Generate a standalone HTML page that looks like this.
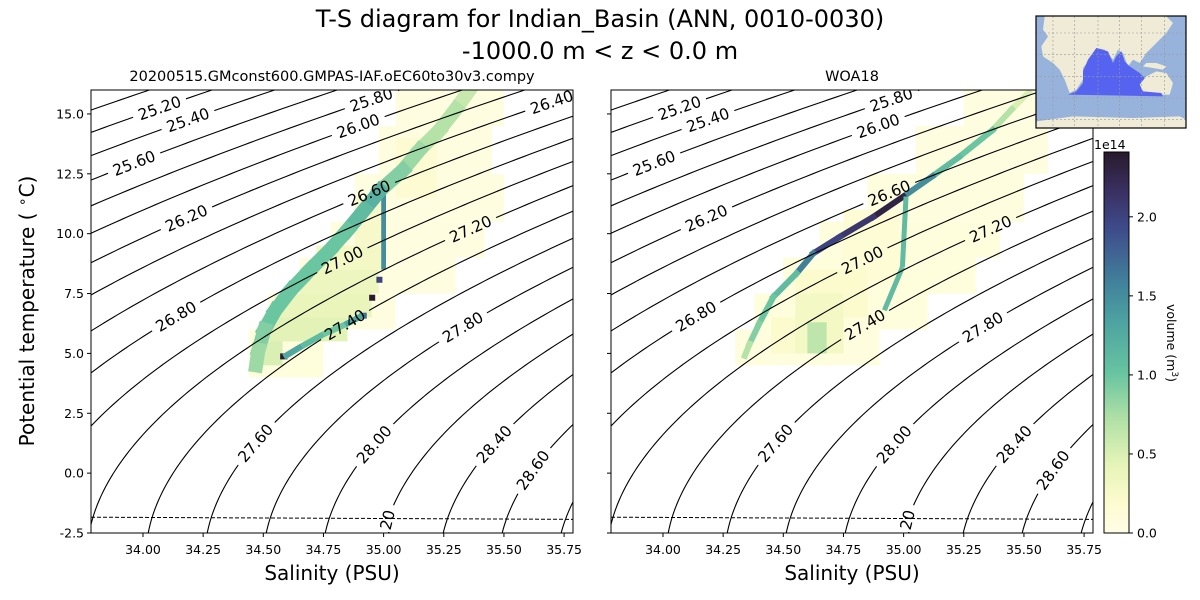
<!DOCTYPE html>
<html><head><meta charset="utf-8"><style>
html,body{margin:0;padding:0;background:#fff;}
svg{display:block;font-family:"DejaVu Sans","Liberation Sans",sans-serif;}
</style></head><body>
<svg id="fig" width="1200" height="600" viewBox="0 0 1200 600" xmlns="http://www.w3.org/2000/svg">
<text x="600" y="27" text-anchor="middle" font-size="24">T-S diagram for Indian_Basin (ANN, 0010-0030)</text>
<text x="600" y="59" text-anchor="middle" font-size="24">-1000.0 m &lt; z &lt; 0.0 m</text>
<text x="332" y="81" text-anchor="middle" font-size="14.5">20200515.GMconst600.GMPAS-IAF.oEC60to30v3.compy</text>
<text x="852" y="81" text-anchor="middle" font-size="14.5">WOA18</text>
<text x="332" y="580" text-anchor="middle" font-size="20">Salinity (PSU)</text>
<text x="852" y="580" text-anchor="middle" font-size="20">Salinity (PSU)</text>
<text transform="translate(34,311) rotate(-90)" text-anchor="middle" font-size="20">Potential temperature ( <tspan dy="-7" font-size="14">∘</tspan><tspan dy="7">C)</tspan></text>
<g id="panels"></g>
<g id="cbar"></g>
<g id="map"></g>
</svg>
<script>
// ---------------- data ----------------
const sLimits = [33.784, 35.787];
const tLimits = [-2.5, 16.0];
const xTicks = [34.00, 34.25, 34.50, 34.75, 35.00, 35.25, 35.50, 35.75];
const yTicks = [-2.5, 0.0, 2.5, 5.0, 7.5, 10.0, 12.5, 15.0];
const sigmaLevels = [25.0,25.2,25.4,25.6,25.8,26.0,26.2,26.4,26.6,26.8,27.0,27.2,27.4,27.6,27.8,28.0,28.2,28.4,28.6,28.8,29.0];
const labelLevels = [25.2,25.4,25.6,25.8,26.0,26.2,26.4,26.6,26.8,27.0,27.2,27.4,27.6,27.8,28.0,28.2,28.4,28.6];
const labelTemps  = [15.25,14.75,12.95,15.6,14.5,10.65,15.5,11.7,6.55,8.9,10.2,6.2,1.26,6.1,1.2,-2.45,1.21,0.13];
const freezeS = [33.784, 35.787];
const freezeT = [-1.84, -1.93];
const cbarTicks = [0.0, 0.5, 1.0, 1.5, 2.0];
const cbarMax = 2.41;
// heatmap blocks: [T0, T1, S0, S1, volume(1e14 m3)]
const modelBlocks = [
 [14.5,16,35.05,35.5,0.05],[12.5,14.5,34.98,35.45,0.06],[10.5,12.5,34.88,35.5,0.06],
 [9,10.5,34.78,35.42,0.06],[7.5,9,34.65,35.3,0.05],[6,7.5,34.52,35.05,0.05],[4.0,6,34.44,34.75,0.08],
 [11.5,14,35.05,35.22,0.18],[9.5,11.5,34.88,35.0,0.25],
 [8.5,9.5,34.72,35.0,0.3],[7.5,8.5,34.65,34.98,0.35],[6.5,7.5,34.55,34.95,0.4],[5.5,6.5,34.5,34.85,0.45],[4.5,5.5,34.47,34.58,0.5],
 [8.5,11.8,34.99,35.01,1.5],[7.95,8.2,34.97,34.995,2.0],[7.2,7.45,34.94,34.965,2.4],
 [6.45,6.7,34.90,34.93,1.7],[4.75,5.0,34.57,34.60,2.4]
];
const modelRidgeT = [15.9,15.2,14.3,13.5,12.65,11.8,11.0,10.15,9.3,8.5,7.65,6.8,6.0,5.15,4.5];
const modelRidgeS = [35.35,35.30,35.23,35.15,35.08,34.985,34.92,34.85,34.775,34.695,34.615,34.55,34.505,34.48,34.47];
const modelRidgeV = [0.6,0.7,0.7,0.8,0.9,1.2,1.1,1.0,1.0,1.0,1.0,1.0,0.9,0.8,0.6];
const modelLowT = [4.85,5.3,5.8,6.2,6.6];
const modelLowS = [34.585,34.66,34.75,34.84,34.915];
const modelLowV = [1.3,1.1,1.0,1.3];
const obsBlocks = [
 [14.5,16,35.25,35.65,0.05],[12.5,14.5,35.05,35.6,0.06],[10.5,12.5,34.85,35.5,0.07],
 [9,10.5,34.65,35.4,0.08],[7.5,9,34.5,35.3,0.08],[6,7.5,34.38,35.1,0.08],[4.5,6,34.3,34.9,0.07],
 [8,11,34.75,34.98,0.15],[6.5,8.5,34.55,34.85,0.2],[5,6.5,34.45,34.75,0.2],
 [5.0,7.5,34.55,34.75,0.3],[5.0,6.3,34.6,34.68,0.65]
];
const obsRidgeT = [15.9,15.2,14.33,13.2,12.4,11.55,10.7,9.87,9.18,8.34,7.36,6.25,5.4,4.9];
const obsRidgeS = [35.52,35.45,35.37,35.23,35.12,34.999,34.874,34.735,34.625,34.555,34.459,34.40,34.36,34.34];
const obsRidgeV = [0.5,0.7,1.0,1.1,1.5,2.3,2.1,2.0,1.6,1.1,1.0,0.9,0.7,0.4];
const obsVertT = [11.55,8.6,6.8];
const obsVertS = [35.01,34.995,34.92];
const obsVertV = [1.1,1.1];

// ---------------- helpers ----------------
const NS = "http://www.w3.org/2000/svg";
function mk(tag, attrs, parent){const e=document.createElementNS(NS,tag);for(const k in attrs)e.setAttribute(k,attrs[k]);if(parent)parent.appendChild(e);return e;}
function rhoSigma(S,T){
 const rw=999.842594+6.793952e-2*T-9.095290e-3*T*T+1.001685e-4*T**3-1.120083e-6*T**4+6.536332e-9*T**5;
 const A=0.824493-4.0899e-3*T+7.6438e-5*T*T-8.2467e-7*T**3+5.3875e-9*T**4;
 const B=-5.72466e-3+1.0227e-4*T-1.6546e-6*T*T;
 return rw+A*S+B*Math.pow(S,1.5)+4.8314e-4*S*S-1000;
}
function solveS(sig,T){let lo=25,hi=40;for(let i=0;i<50;i++){const m=(lo+hi)/2;if(rhoSigma(m,T)<sig)lo=m;else hi=m;}return (lo+hi)/2;}
const stops=[[0,'#fffee6'],[0.08,'#fdfbcf'],[0.18,'#e6f4b8'],[0.3,'#b0e0a6'],[0.42,'#67c4a1'],[0.55,'#4ea4a1'],[0.65,'#42849c'],[0.8,'#3e4b8b'],[0.9,'#3a2f60'],[1,'#281a2c']];
function hex(c){return [1,3,5].map(i=>parseInt(c.substr(i,2),16));}
function cmap(v){let t=Math.max(0,Math.min(1,v/cbarMax));for(let i=1;i<stops.length;i++){if(t<=stops[i][0]){const a=stops[i-1],b=stops[i];const f=(t-a[0])/(b[0]-a[0]);const ca=hex(a[1]),cb=hex(b[1]);return 'rgb('+ca.map((x,j)=>Math.round(x+(cb[j]-x)*f)).join(',')+')';}}return stops[stops.length-1][1];}

const panelsG=document.getElementById('panels');
const W=482,H=443,Y0=90;
function buildPanel(x0, key, blocks, ridgeT, ridgeS, ridgeV, ridgeW){
 const sx=S=>x0+(S-sLimits[0])/(sLimits[1]-sLimits[0])*W;
 const ty=T=>Y0+(tLimits[1]-T)/(tLimits[1]-tLimits[0])*H;
 const g=mk('g',{},panelsG);
 
 
 const clip=mk('clipPath',{id:'clip-'+key},g);mk('rect',{x:x0,y:Y0,width:W,height:H},clip);
 const heat=mk('g',{'clip-path':'url(#clip-'+key+')'},g);
 
 
 blocks.forEach(b=>{
  const r=mk('rect',{x:sx(b[2]),y:ty(b[1]),width:sx(b[3])-sx(b[2]),height:ty(b[0])-ty(b[1]),fill:cmap(b[4])},heat);
  
  
 });
 for(let i=0;i<ridgeT.length-1;i++){
  const l=mk('line',{x1:sx(ridgeS[i]),y1:ty(ridgeT[i]),x2:sx(ridgeS[i+1]),y2:ty(ridgeT[i+1]),stroke:cmap(ridgeV[i]),'stroke-width':ridgeW,'stroke-linecap':'square'},heat);
  
  
 }
 return {g,sx,ty,heat};
}
function addVert(p,Ts,Ss,Vs,w){
 for(let i=0;i<Ts.length-1;i++){
  const l=mk('line',{x1:p.sx(Ss[i]),y1:p.ty(Ts[i]),x2:p.sx(Ss[i+1]),y2:p.ty(Ts[i+1]),stroke:cmap(Vs[i]),'stroke-width':w},p.heat);
  
  
 }
}
function finishPanel(p,x0,key,showYLabels){
 const {g,sx,ty}=p;
 const mask=mk('mask',{id:'mask-'+key,maskUnits:'userSpaceOnUse',x:0,y:0,width:1200,height:600},g);
 mk('rect',{x:0,y:0,width:1200,height:600,fill:'#fff'},mask);
 const cg=mk('g',{'clip-path':'url(#clip-'+key+')'},g);
 const lines=mk('g',{mask:'url(#mask-'+key+')'},cg);
 
 
 sigmaLevels.forEach(sig=>{
  let d='';
  for(let T=-3;T<=16.6;T+=0.1){const S=solveS(sig,T);d+=(d?'L':'M')+sx(S).toFixed(2)+','+ty(T).toFixed(2);}
  const pth=mk('path',{d:d,fill:'none',stroke:'#000','stroke-width':1.1},lines);
  
  
 });
 labelLevels.forEach((sig,i)=>{
  const T=labelTemps[i];const S=solveS(sig,T);
  const x=sx(S),y=ty(T);
  const xa=sx(solveS(sig,T-0.1)),ya=ty(T-0.1),xb=sx(solveS(sig,T+0.1)),yb=ty(T+0.1);
  const ang=Math.atan2(yb-ya,xb-xa)*180/Math.PI;
  mk('rect',{x:x-28,y:y-9,width:56,height:18,fill:'#000',transform:'rotate('+ang+' '+x+' '+y+')'},mask);
  const t=mk('text',{x:x,y:y+5.5,'text-anchor':'middle','font-size':15.5,transform:'rotate('+ang+' '+x+' '+y+')'},cg);
  t.textContent=sig.toFixed(2);
  
  
 });
 const fz=mk('line',{x1:sx(freezeS[0]),y1:ty(freezeT[0]),x2:sx(freezeS[1]),y2:ty(freezeT[1]),stroke:'#000','stroke-width':1,'stroke-dasharray':'4,2'},cg);
 
 
 const fr=mk('rect',{x:x0,y:Y0,width:W,height:H,fill:'none',stroke:'#000','stroke-width':1},g);
 
 
 xTicks.forEach(v=>{
  const x=sx(v);mk('line',{x1:x,y1:Y0+H,x2:x,y2:Y0+H+4,stroke:'#000'},g);
  const t=mk('text',{x:x,y:Y0+H+21,'text-anchor':'middle','font-size':12.5},g);t.textContent=v.toFixed(2);
  
  
 });
 yTicks.forEach(v=>{
  const y=ty(v);mk('line',{x1:x0-4,y1:y,x2:x0,y2:y,stroke:'#000'},g);
  if(showYLabels){const t=mk('text',{x:x0-7,y:y+4.5,'text-anchor':'end','font-size':12.5},g);t.textContent=v.toFixed(1);
   
   }
 });
}
const pm=buildPanel(91,'model',modelBlocks,modelRidgeT,modelRidgeS,modelRidgeV,14);
addVert(pm,modelLowT,modelLowS,modelLowV,6);
finishPanel(pm,91,'model',true);
const po=buildPanel(611,'obs',obsBlocks,obsRidgeT,obsRidgeS,obsRidgeV,6);
addVert(po,obsVertT,obsVertS,obsVertV,5);
finishPanel(po,611,'obs',false);

// ---------------- colorbar ----------------
const cb=document.getElementById('cbar');
const cx=1104,cw=25,ctop=152,cbot=533;
const defs=mk('defs',{},cb);
const grad=mk('linearGradient',{id:'cgrad',x1:0,y1:1,x2:0,y2:0},defs);
stops.forEach(s=>mk('stop',{offset:s[0],'stop-color':s[1]},grad));
mk('rect',{x:cx,y:ctop,width:cw,height:cbot-ctop,fill:'url(#cgrad)',stroke:'#000','stroke-width':1},cb);
cbarTicks.forEach(v=>{
 const y=cbot-(v/cbarMax)*(cbot-ctop);
 mk('line',{x1:cx+cw,y1:y,x2:cx+cw+4,y2:y,stroke:'#000'},cb);
 const t=mk('text',{x:cx+cw+8,y:y+4.5,'font-size':12.5},cb);t.textContent=v.toFixed(1);
 
 
});
const e14=mk('text',{x:1094,y:149,'font-size':12.5},cb);e14.textContent='1e14';


const vl=mk('text',{transform:'translate(1167,343) rotate(90)','text-anchor':'middle','font-size':12.5},cb);
vl.innerHTML='volume (m<tspan dy="-5" font-size="9">3</tspan><tspan dy="5">)</tspan>';



// ---------------- inset map ----------------
const mg=document.getElementById('map');
const mx=z=>1033+z/3, my=z=>13+z/3;
const poly=(pts,fill,name)=>{const p=mk('polygon',{points:pts.map(q=>mx(q[0])+','+my(q[1])).join(' '),fill:fill},mg);return p;};
mk('rect',{x:1036,y:16,width:150,height:112,fill:'#97b3dc'},mg);
poly([[35,10],[400,10],[420,30],[400,60],[370,90],[340,120],[320,150],[300,140],[285,160],[270,120],[255,110],[240,140],[215,110],[190,105],[170,140],[150,165],[150,200],[130,230],[110,240],[95,200],[80,170],[60,150],[30,130],[25,100],[45,70],[30,50]],'#efebd6','map-land-afro-eurasia');
poly([[320,215],[340,190],[370,175],[400,180],[420,210],[410,245],[385,245],[330,235]],'#efebd6','map-land-australia');
poly([[330,160],[360,165],[390,170],[400,160],[370,150],[340,150]],'#efebd6','map-land-indonesia');
poly([[10,325],[120,310],[300,315],[440,310],[460,320],[460,345],[10,345]],'#efebd6','map-land-antarctica');
poly([[105,245],[390,250],[385,240],[330,235],[320,215],[335,195],[320,180],[290,160],[275,145],[265,115],[250,130],[240,150],[225,115],[190,105],[165,140],[150,175],[150,210],[130,235]],'#5563f0','map-indian-basin');
[60,125,195,260,325,395].forEach(z=>mk('line',{x1:mx(z),y1:16,x2:mx(z),y2:128,stroke:'#999','stroke-width':0.6,'stroke-dasharray':'2,2'},mg));
[60,125,190,255,320].forEach(z=>mk('line',{x1:1036,y1:my(z),x2:1186,y2:my(z),stroke:'#999','stroke-width':0.6,'stroke-dasharray':'2,2'},mg));
mk('rect',{x:1036,y:16,width:150,height:112,fill:'none',stroke:'#000','stroke-width':1.2},mg);
</script>
</body></html>
